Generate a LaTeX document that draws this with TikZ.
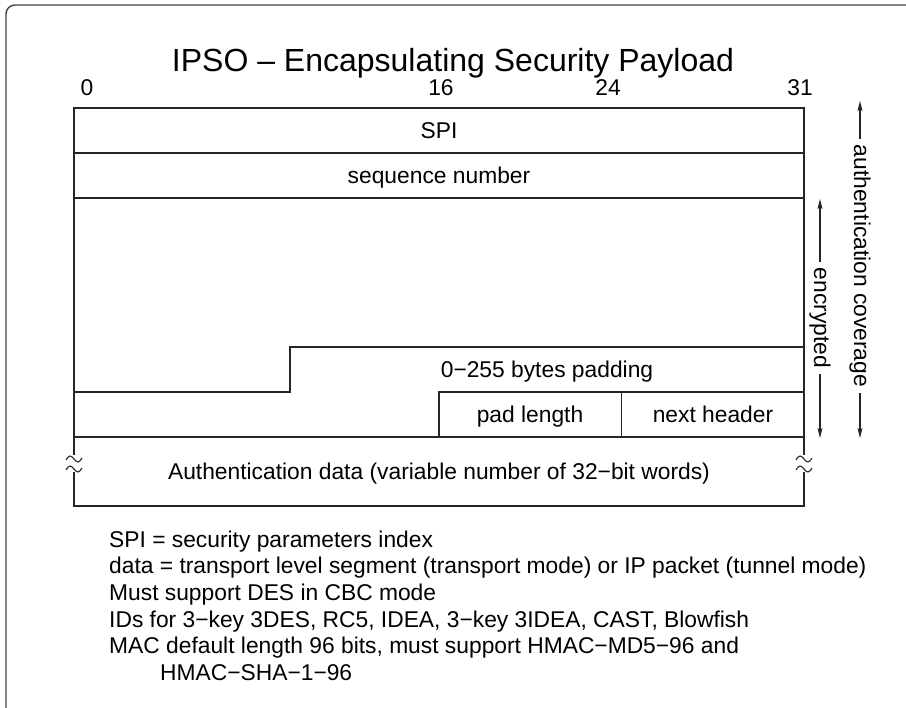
\documentclass[tikz,border=0pt]{standalone}
\usepackage{fontspec}
\setmainfont{Liberation Sans}
\usetikzlibrary{arrows.meta}
\begin{document}
\begin{tikzpicture}[x=1pt,y=-1pt,
  txt/.style={font=\fontsize{22.8}{24}\selectfont, inner sep=0pt, anchor=base},
  note/.style={font=\fontsize{22.8}{24}\selectfont, inner sep=0pt, anchor=base west},
  ln/.style={line width=1.3pt, draw=black!85},
  arr/.style={line width=1.1pt, draw=black!85, -{Stealth[length=10pt,width=5pt,inset=2pt]}},
  vlab/.style={font=\fontsize{22.8}{24}\selectfont, rotate=-90, inner xsep=6pt, inner ysep=0pt},
  squig/.style={line width=1.1pt, draw=black!85},
]
\useasboundingbox (0,0) rectangle (906,708);
% frame
\draw[line width=1.4pt, draw=black!75, rounded corners=9pt] (6,708) -- (6,5) -- (906,5);
% title and bit numbers
\node[font=\fontsize{32}{34}\selectfont, inner sep=0pt, anchor=base] (title) at (453,71.5) {IPSO – Encapsulating Security Payload};
\node[txt] (b0) at (87,95.5) {0};
\node[txt] (b16) at (441,95.5) {16};
\node[txt] (b24) at (608,95.5) {24};
\node[txt] (b31) at (800,95.5) {31};
% box
\draw[ln] (74,455) -- (74,108) -- (804,108) -- (804,455);
\draw[ln] (74,153) -- (804,153);
\draw[ln] (74,198) -- (804,198);
\draw[ln] (74,392) -- (290,392) -- (290,347) -- (804,347);
\draw[ln] (439,437) -- (439,392) -- (804,392);
\draw[ln] (621.5,392) -- (621.5,437);
\draw[ln] (74,437) -- (804,437);
\draw[ln] (74,472) -- (74,506) -- (804,506) -- (804,472);
% squiggles
\foreach \cx in {74,804}{
  \foreach \cy in {459,469}{
    \draw[squig] (\cx-8,\cy+1) sin (\cx-4,\cy-3) cos (\cx,\cy) sin (\cx+4,\cy+3) cos (\cx+8,\cy-1);
  }
}
% field labels
\node[txt] (spi) at (439,139) {SPI};
\node[txt] (seq) at (439,184) {sequence number};
\node[txt] (pad) at (547,378) {0−255 bytes padding};
\node[txt] (padlen) at (530,423) {pad length};
\node[txt] (nxt) at (713,423) {next header};
\node[txt] (auth) at (439,480) {Authentication data (variable number of 32−bit words)};
% side arrows
\coordinate (encTop) at (820,199);
\coordinate (encBot) at (820,438);
\node[vlab] (enc) at (820,318) {encrypted};
\draw[arr] (enc.west) -- (encTop);
\draw[arr] (enc.east) -- (encBot);
\coordinate (acTop) at (860,101);
\coordinate (acBot) at (860,438);
\node[vlab] (ac) at (860,266) {authentication coverage};
\draw[arr] (ac.west) -- (acTop);
\draw[arr] (ac.east) -- (acBot);
% notes
\node[note] (n1) at (109,547.5) {SPI = security parameters index};
\node[note] (n2) at (109,574) {data = transport level segment (transport mode) or IP packet (tunnel mode)};
\node[note] (n3) at (109,600.6) {Must support DES in CBC mode};
\node[note] (n4) at (109,627.2) {IDs for 3−key 3DES, RC5, IDEA, 3−key 3IDEA, CAST, Blowfish};
\node[note] (n5) at (109,653.8) {MAC default length 96 bits, must support HMAC−MD5−96 and};
\node[note] (n6) at (160,680.4) {HMAC−SHA−1−96};
\end{tikzpicture}
\end{document}
